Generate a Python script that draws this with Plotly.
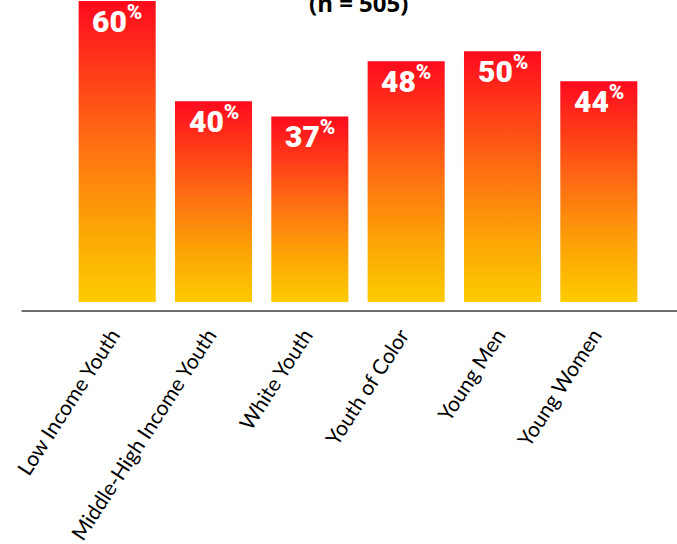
import plotly.graph_objects as go

categories = ["Low Income Youth", "Middle-High Income Youth", "White Youth",
              "Youth of Color", "Young Men", "Young Women"]
values = [60, 40, 37, 48, 50, 44]
value_labels = [f"{v}<sup>%</sup>" for v in values]
subtitle = "(n = 505)"

bar_width = 0.8
gradient = [[0.0, "#FCCB00"], [0.25, "#FCA405"], [0.5, "#FE7512"],
            [0.75, "#FF3F17"], [1.0, "#FF0A1E"]]

fig = go.Figure()
for i, v in enumerate(values):
    x0, x1 = i - bar_width / 2, i + bar_width / 2
    fig.add_trace(go.Scatter(
        x=[x0, x1, x1, x0, x0], y=[0, 0, v, v, 0],
        mode="lines", line=dict(width=0, color="rgba(0,0,0,0)"),
        fill="toself",
        fillgradient=dict(type="vertical", colorscale=gradient),
        hoverinfo="skip", showlegend=False,
    ))

for i, (v, t) in enumerate(zip(values, value_labels)):
    fig.add_annotation(
        x=i, y=v, xref="x", yref="y", text=t, showarrow=False,
        yanchor="top", yshift=3,
        font=dict(family="Roboto, sans-serif", size=30, color="white", weight=900),
    )

fig.add_annotation(
    x=0.5, y=1, xref="paper", yref="paper", text=f"<b>{subtitle}</b>",
    showarrow=False, yanchor="bottom", yshift=-21,
    font=dict(family="Open Sans, sans-serif", size=24, color="black"),
)

fig.add_shape(type="line", xref="paper", yref="paper", x0=-0.082, x1=1.06,
              y0=0, y1=0, line=dict(color="#6e6e6e", width=2))

fig.update_xaxes(
    range=[-0.5, 5.5], tickmode="array", tickvals=list(range(len(categories))),
    ticktext=categories, tickangle=-57, showgrid=False, zeroline=False,
    showline=False, ticks="", ticklabelshift=-5, ticklabelstandoff=7,
    tickfont=dict(family="Lato, sans-serif", size=21, color="black"),
)
fig.update_yaxes(range=[-1.79, 60.2], visible=False, showgrid=False, zeroline=False)

fig.update_layout(
    width=677, height=544,
    margin=dict(l=69, r=30, t=0, b=233),
    paper_bgcolor="white", plot_bgcolor="white",
)

fig.write_html("out.html")
